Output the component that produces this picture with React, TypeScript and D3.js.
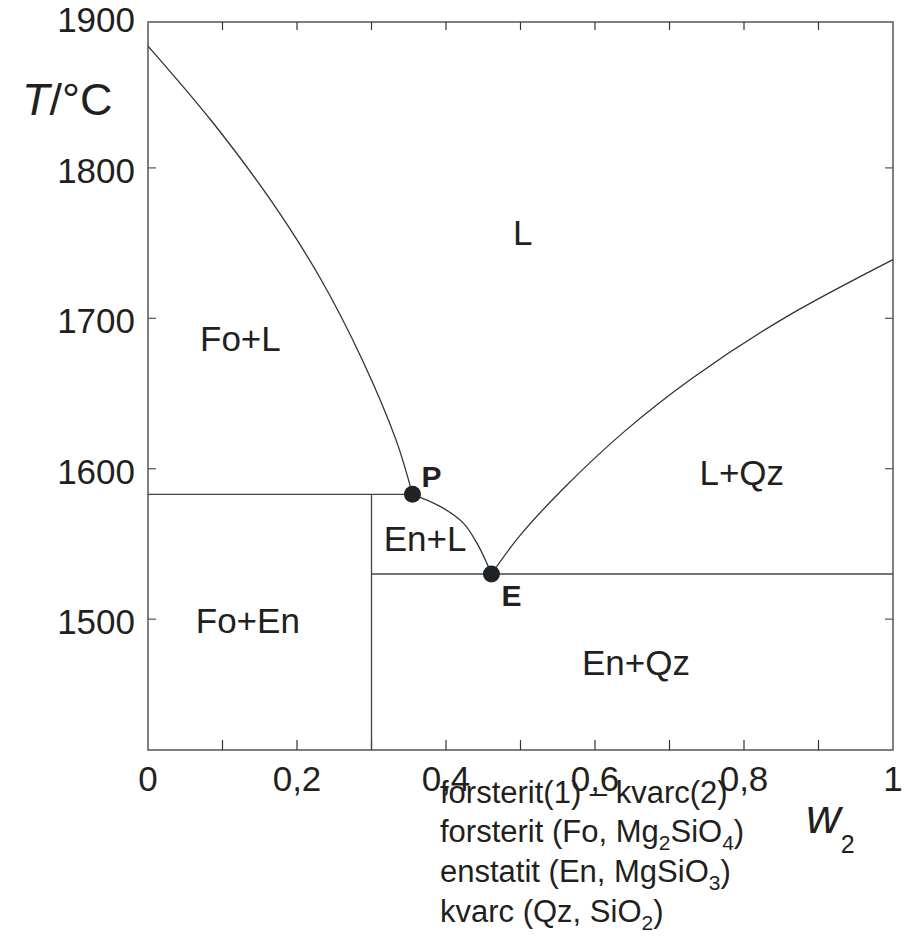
import React, { useEffect, useRef } from "react";
import * as d3 from "d3";

// liquidus of forsterite (from w2 = 0 down to the peritectic P)
const foLiquidusW = [0, 0.084, 0.164, 0.232, 0.288, 0.333, 0.355];
const foLiquidusT = [1881, 1832, 1779, 1726, 1672, 1619, 1583];

// liquidus of enstatite (P -> E)
const enLiquidusW = [0.355, 0.392, 0.423, 0.441, 0.455, 0.461];
const enLiquidusT = [1583, 1575, 1564, 1551, 1537, 1530];

// liquidus of quartz (E -> w2 = 1)
const qzLiquidusW = [0.461, 0.5, 0.56, 0.64, 0.73, 0.85, 1.0];
const qzLiquidusT = [1530, 1556, 1588, 1625, 1660, 1699, 1739];

const peritectic = { w: 0.355, t: 1583 };
const eutectic = { w: 0.461, t: 1530 };
const enstatiteW = 0.3;

const xTickValues = [0, 0.1, 0.2, 0.3, 0.4, 0.5, 0.6, 0.7, 0.8, 0.9, 1];
const xLabelValues = [0, 0.2, 0.4, 0.6, 0.8, 1];
const xLabels = ["0", "0,2", "0,4", "0,6", "0,8", "1"];
const yTickValues = [1500, 1600, 1700, 1800];
const yLabelValues = [1500, 1600, 1700, 1800, 1900];

const regionNames = ["L", "Fo+L", "Fo+En", "En+L", "L+Qz", "En+Qz"];
const regionW = [0.503, 0.124, 0.134, 0.372, 0.797, 0.655];
const regionT = [1749, 1678, 1491, 1545, 1589, 1463];

const App: React.FC = () => {
  const ref = useRef<SVGSVGElement | null>(null);

  useEffect(() => {
    const svg = d3.select(ref.current);
    svg.selectAll("*").remove();

    const font = "'Liberation Sans', Arial, sans-serif";
    const ink = "#231f20";
    const x = d3.scaleLinear().domain([0, 1]).range([148, 893]);
    const y = d3.scaleLinear().domain([1413, 1897]).range([750, 22]);

    const g = svg.append("g");

    // frame
    g.append("rect")
      .attr("x", x(0))
      .attr("y", y(1897))
      .attr("width", x(1) - x(0))
      .attr("height", y(1413) - y(1897))
      .attr("fill", "none")
      .attr("stroke", "#555")
      .attr("stroke-width", 1.5);

    // inward ticks
    xTickValues.slice(1, -1).forEach((v) => {
      g.append("line")
        .attr("x1", x(v)).attr("x2", x(v))
        .attr("y1", y(1413)).attr("y2", y(1413) - 10)
        .attr("stroke", "#333").attr("stroke-width", 1.2);
      g.append("line")
        .attr("x1", x(v)).attr("x2", x(v))
        .attr("y1", y(1897)).attr("y2", y(1897) + 8)
        .attr("stroke", "#333").attr("stroke-width", 1.2);
    });
    yTickValues.forEach((v) => {
      g.append("line")
        .attr("x1", x(0)).attr("x2", x(0) + 8)
        .attr("y1", y(v)).attr("y2", y(v))
        .attr("stroke", "#555").attr("stroke-width", 1.2);
      g.append("line")
        .attr("x1", x(1)).attr("x2", x(1) - 8)
        .attr("y1", y(v)).attr("y2", y(v))
        .attr("stroke", "#555").attr("stroke-width", 1.2);
    });

    // tick labels
    g.selectAll(".xl")
      .data(xLabelValues)
      .join("text")
      .attr("x", (d) => x(d))
      .attr("y", 791)
      .attr("text-anchor", "middle")
      .attr("font-family", font)
      .attr("font-size", 35)
      .attr("fill", ink)
      .text((d, i) => xLabels[i]);

    g.selectAll(".yl")
      .data(yLabelValues)
      .join("text")
      .attr("x", 135)
      .attr("y", (d) => y(d) + 15)
      .attr("text-anchor", "end")
      .attr("font-family", font)
      .attr("font-size", 35)
      .attr("fill", ink)
      .text((d) => d);

    // axis titles
    const tTitle = g.append("text")
      .attr("x", 22)
      .attr("y", 115)
      .attr("font-family", font)
      .attr("font-size", 45)
      .attr("fill", ink);
    tTitle.append("tspan").attr("font-style", "italic").text("T");
    tTitle.append("tspan").text("/°C");

    const wTitle = g.append("text")
      .attr("x", 806)
      .attr("y", 833)
      .attr("font-family", font)
      .attr("font-size", 48)
      .attr("fill", ink);
    wTitle.append("tspan").attr("font-style", "italic").text("w");
    wTitle.append("tspan").attr("font-size", 25).attr("dy", 20).text("2");

    // phase boundaries
    const line = d3
      .line<[number, number]>()
      .x((d) => x(d[0]))
      .y((d) => y(d[1]))
      .curve(d3.curveCatmullRom.alpha(0.5));

    const curves = [
      foLiquidusW.map((w, i) => [w, foLiquidusT[i]] as [number, number]),
      enLiquidusW.map((w, i) => [w, enLiquidusT[i]] as [number, number]),
      qzLiquidusW.map((w, i) => [w, qzLiquidusT[i]] as [number, number]),
    ];
    g.selectAll(".curve")
      .data(curves)
      .join("path")
      .attr("d", (d) => line(d) as string)
      .attr("fill", "none")
      .attr("stroke", "#333")
      .attr("stroke-width", 1.3);

    const straight: [number, number, number, number][] = [
      [0, peritectic.t, peritectic.w, peritectic.t],
      [enstatiteW, eutectic.t, 1, eutectic.t],
      [enstatiteW, peritectic.t, enstatiteW, 1413],
    ];
    g.selectAll(".seg")
      .data(straight)
      .join("line")
      .attr("x1", (d) => x(d[0]))
      .attr("y1", (d) => y(d[1]))
      .attr("x2", (d) => x(d[2]))
      .attr("y2", (d) => y(d[3]))
      .attr("stroke", "#444")
      .attr("stroke-width", 1.3);

    // invariant points
    [peritectic, eutectic].forEach((p) => {
      g.append("circle")
        .attr("cx", x(p.w))
        .attr("cy", y(p.t))
        .attr("r", 8.5)
        .attr("fill", "#1f2326");
    });
    g.append("text")
      .attr("x", x(peritectic.w) + 9)
      .attr("y", y(peritectic.t) - 7)
      .attr("font-family", font)
      .attr("font-weight", "bold")
      .attr("font-size", 30)
      .attr("fill", ink)
      .text("P");
    g.append("text")
      .attr("x", x(eutectic.w) + 10)
      .attr("y", y(eutectic.t) + 32)
      .attr("font-family", font)
      .attr("font-weight", "bold")
      .attr("font-size", 30)
      .attr("fill", ink)
      .text("E");

    // region labels
    g.selectAll(".region")
      .data(regionNames)
      .join("text")
      .attr("x", (d, i) => x(regionW[i]))
      .attr("y", (d, i) => y(regionT[i]))
      .attr("text-anchor", "middle")
      .attr("font-family", font)
      .attr("font-size", 35)
      .attr("fill", ink)
      .text((d) => d);

    // legend text
    const legend = g.append("g")
      .attr("font-family", font)
      .attr("font-size", 31)
      .attr("fill", ink);
    const sub = (t: any, s: string) => {
      t.append("tspan").attr("font-size", 21).attr("dy", 8).text(s);
      return t;
    };
    legend.append("text").attr("x", 440).attr("y", 803).text("forsterit(1) – kvarc(2)");

    const l2 = legend.append("text").attr("x", 440).attr("y", 842);
    l2.append("tspan").text("forsterit (Fo, Mg");
    sub(l2, "2");
    l2.append("tspan").attr("dy", -8).text("SiO");
    sub(l2, "4");
    l2.append("tspan").attr("dy", -8).text(")");

    const l3 = legend.append("text").attr("x", 440).attr("y", 882);
    l3.append("tspan").text("enstatit (En, MgSiO");
    sub(l3, "3");
    l3.append("tspan").attr("dy", -8).text(")");

    const l4 = legend.append("text").attr("x", 440).attr("y", 922);
    l4.append("tspan").text("kvarc (Qz, SiO");
    sub(l4, "2");
    l4.append("tspan").attr("dy", -8).text(")");
  }, []);

  return (
    <svg
      ref={ref}
      width={915}
      height={943}
      style={{ position: "absolute", left: 0, top: 0, background: "#fff" }}
    />
  );
};

export default App;
